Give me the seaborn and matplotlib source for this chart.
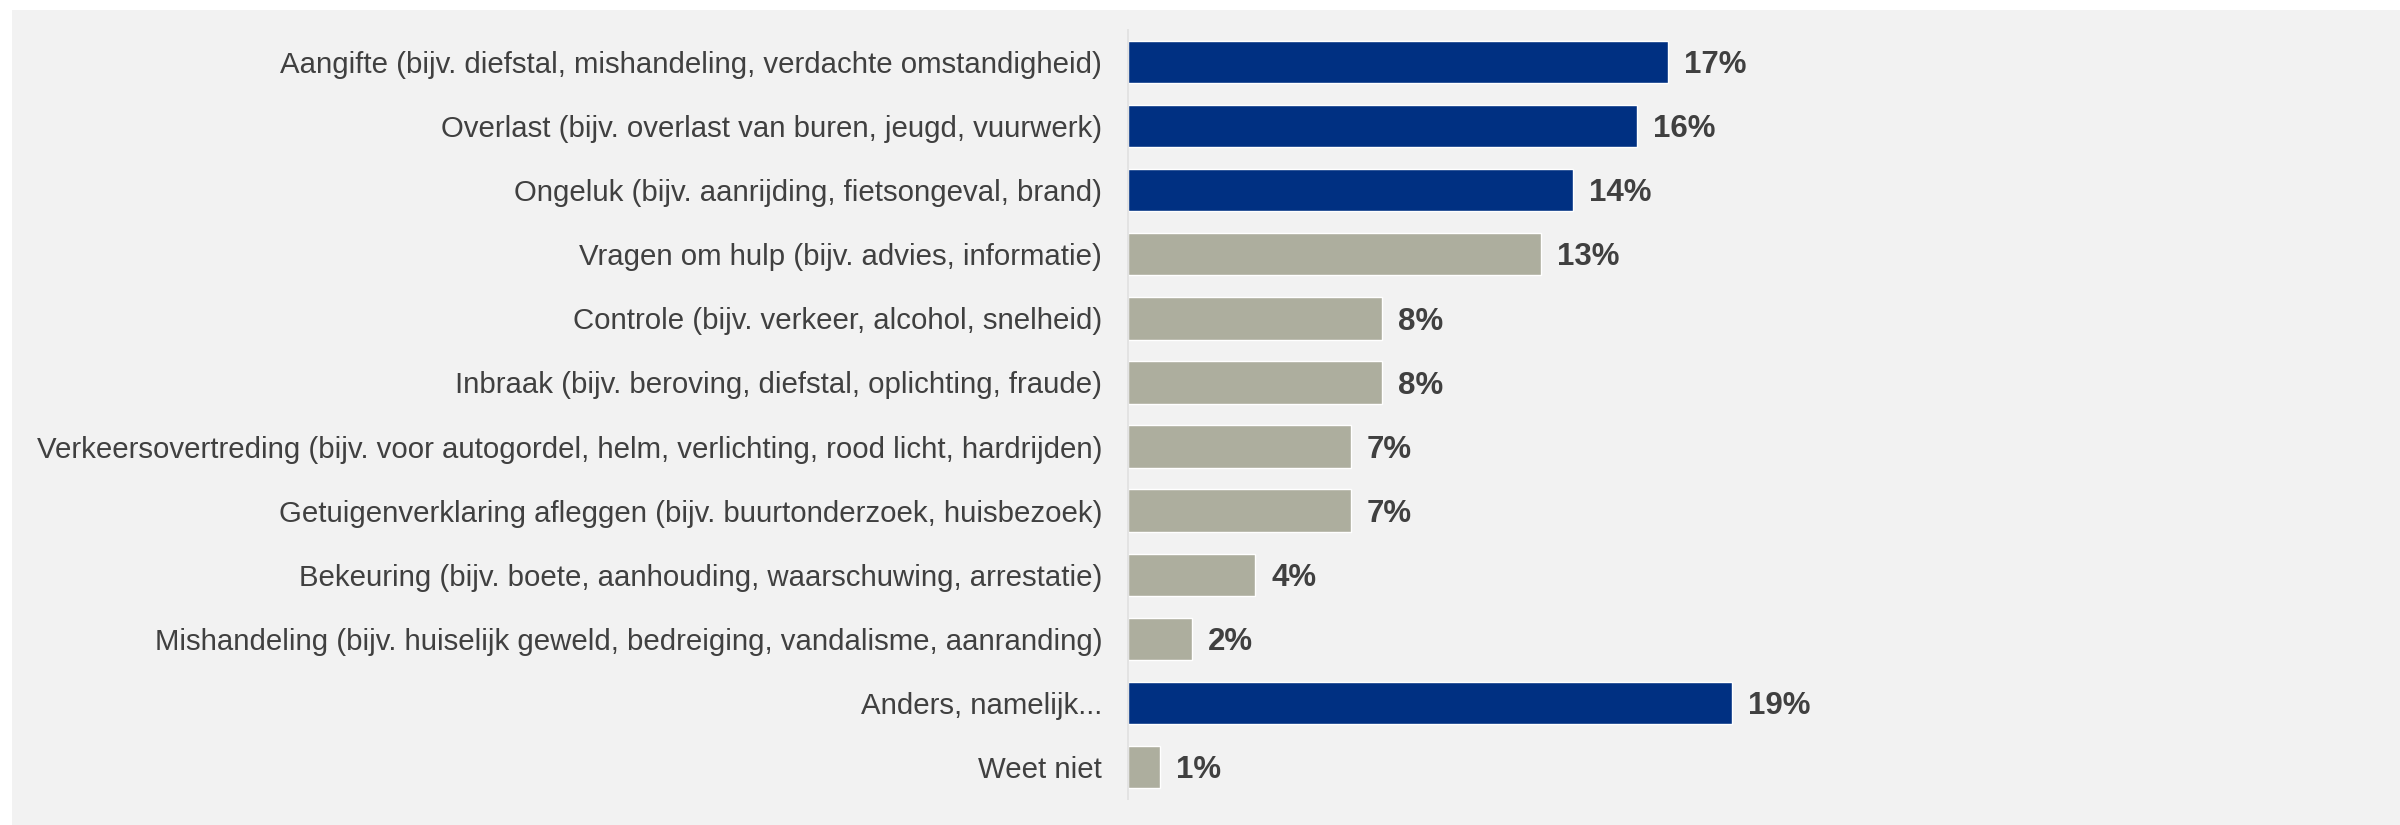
import matplotlib
matplotlib.use("Agg")
import matplotlib.pyplot as plt
from matplotlib.patches import Rectangle
import seaborn as sns
import pandas as pd

categories = [
    "Aangifte (bijv. diefstal, mishandeling, verdachte omstandigheid)",
    "Overlast (bijv. overlast van buren, jeugd, vuurwerk)",
    "Ongeluk (bijv. aanrijding, fietsongeval, brand)",
    "Vragen om hulp (bijv. advies, informatie)",
    "Controle (bijv. verkeer, alcohol, snelheid)",
    "Inbraak (bijv. beroving, diefstal, oplichting, fraude)",
    "Verkeersovertreding (bijv. voor autogordel, helm, verlichting, rood licht, hardrijden)",
    "Getuigenverklaring afleggen (bijv. buurtonderzoek, huisbezoek)",
    "Bekeuring (bijv. boete, aanhouding, waarschuwing, arrestatie)",
    "Mishandeling (bijv. huiselijk geweld, bedreiging, vandalisme, aanranding)",
    "Anders, namelijk...",
    "Weet niet",
]
values = [17, 16, 14, 13, 8, 8, 7, 7, 4, 2, 19, 1]
highlight = [True, True, True, False, False, False, False, False, False, False, True, False]
value_labels = ["17%", "16%", "14%", "13%", "8%", "8%", "7%", "7%", "4%", "2%", "19%", "1%"]

NAVY = "#003082"
TAUPE = "#ADAE9E"
BG = "#F2F2F2"
TEXT = "#404040"

sns.set_theme(style="white")
plt.rcParams["font.family"] = ["Liberation Sans", "DejaVu Sans"]

df = pd.DataFrame({"cat": categories, "val": values})
colors = [NAVY if h else TAUPE for h in highlight]

W, H = 2400, 825
fig = plt.figure(figsize=(24, 8.25), dpi=100, facecolor="white")
fig.patches.append(Rectangle((12 / W, 0), 1 - 12 / W, 1 - 10 / H,
                             transform=fig.transFigure, facecolor=BG,
                             edgecolor="none", zorder=-1))

left = 1128 / W
bottom = (H - 799) / H
height = 769 / H
xmax = 39.0
width = xmax * 31.79 / W
ax = fig.add_axes([left, bottom, width, height])
ax.set_facecolor(BG)

sns.barplot(data=df, x="val", y="cat", hue="cat", palette=colors,
            orient="h", width=0.66, legend=False, ax=ax, saturation=1)

ax.set_xlim(0, xmax)
ax.set_ylim(len(categories) - 0.5, -0.5)
ax.set_xlabel("")
ax.set_ylabel("")
ax.set_xticks([])
for s in ["top", "right", "bottom"]:
    ax.spines[s].set_visible(False)
ax.spines["left"].set_color("#E3E3E3")
ax.spines["left"].set_linewidth(1.4)
ax.tick_params(axis="y", length=0, pad=18.5, labelsize=21.2, labelcolor=TEXT)

vfs = 22.5
for i, (v, lab) in enumerate(zip(values, value_labels)):
    ax.annotate(lab, xy=(v, i), xytext=(11.5, -0.716 * vfs / 2),
                textcoords="offset points",
                ha="left", va="baseline", fontsize=vfs, fontweight="bold", color=TEXT)

fig.savefig("out.png", dpi=100, facecolor="white")
